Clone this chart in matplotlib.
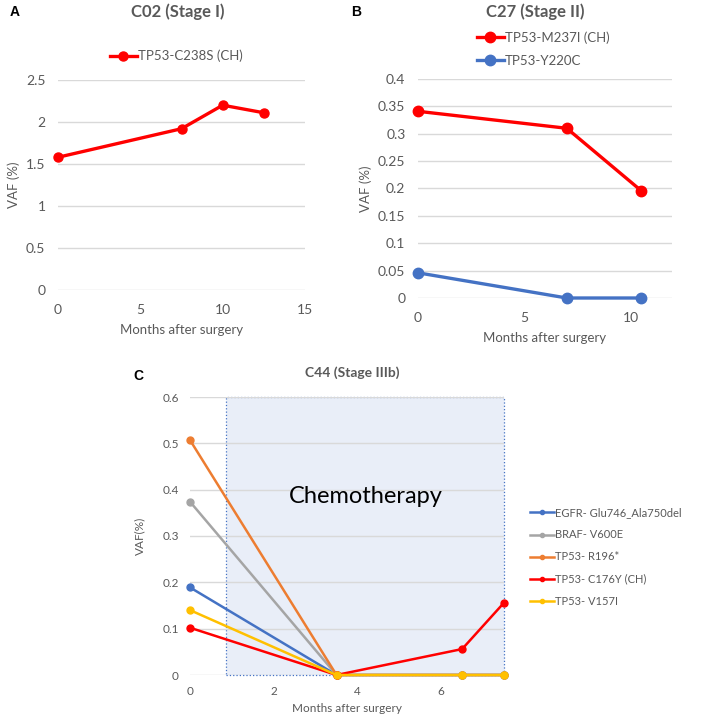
import matplotlib
matplotlib.use("Agg")
import matplotlib.pyplot as plt
from matplotlib.patches import Rectangle

plt.rcParams['font.family'] = ['Lato', 'DejaVu Sans']

# ---- Data ----
a_months = [0, 7.5, 10, 12.5]
a_tp53_c238s = [1.58, 1.92, 2.20, 2.11]

b_months = [0, 7, 10.5]
b_tp53_m237i = [0.341, 0.310, 0.196]
b_tp53_y220c = [0.046, 0.0, 0.0]

c_months = [0, 3.5, 6.5, 7.5]
c_egfr = [0.189, 0.0, 0.0, 0.0]
c_braf = [0.374, 0.0, 0.0, 0.0]
c_tp53_r196 = [0.507, 0.0, 0.0, 0.0]
c_tp53_c176y = [0.102, 0.0, 0.056, 0.156]
c_tp53_v157i = [0.140, 0.0, 0.0, 0.0]
chemo_start, chemo_end = 0.86, 7.5

TXT = '#595959'
GRID = '#d9d9d9'

fig = plt.figure(figsize=(7.09, 7.18), dpi=100)

def style(ax, fs, xpad, ypad):
    for s in ax.spines.values():
        s.set_visible(False)
    ax.grid(axis='y', color=GRID, linewidth=1)
    ax.set_axisbelow(True)
    ax.tick_params(length=0, labelsize=fs, colors=TXT)
    ax.tick_params(axis='x', pad=xpad)
    ax.tick_params(axis='y', pad=ypad)

def fmt(v):
    return '%g' % v

# ---- Panel A ----
axA = fig.add_axes([58/709, 1-290/718, 247/709, 210/718])
axA.plot(a_months, a_tp53_c238s, color='#ff0000', lw=2.4, marker='o', ms=6.5,
         label='TP53-C238S (CH)', clip_on=False)
axA.set_xlim(0, 15)
axA.set_ylim(0, 2.5)
axA.set_xticks([0, 5, 10, 15])
ya = [0, 0.5, 1, 1.5, 2, 2.5]
axA.set_yticks(ya)
axA.set_yticklabels([fmt(v) for v in ya])
style(axA, 10, 10, 9)
axA.set_xlabel('Months after surgery', color=TXT, fontsize=9.5, labelpad=6)
axA.set_ylabel('VAF (%)', color=TXT, fontsize=9.5, labelpad=4)
axA.legend(loc='center left', bbox_to_anchor=(105/709, 1-56/718),
           bbox_transform=fig.transFigure, frameon=False, fontsize=9.5,
           handlelength=2.0, handletextpad=0.1, labelcolor=TXT, borderaxespad=0)
fig.text(178/709, 1-12/718, 'C02 (Stage I)', ha='center', va='center',
         fontsize=12, fontweight='bold', color=TXT)
fig.text(10/709, 1-12/718, 'A', ha='left', va='center', fontsize=10,
         fontweight='bold', color='black', family=['Liberation Sans'])

# ---- Panel B ----
axB = fig.add_axes([418/709, 1-298/718, 254/709, 219/718])
axB.plot(b_months, b_tp53_m237i, color='#ff0000', lw=2.4, marker='o', ms=7.5,
         label='TP53-M237I (CH)', clip_on=False)
axB.plot(b_months, b_tp53_y220c, color='#4472c4', lw=2.4, marker='o', ms=7.5,
         label='TP53-Y220C', clip_on=False)
axB.set_xlim(0, 11.95)
axB.set_ylim(0, 0.4)
axB.set_xticks([0, 5, 10])
yb = [0, 0.05, 0.1, 0.15, 0.2, 0.25, 0.3, 0.35, 0.4]
axB.set_yticks(yb)
axB.set_yticklabels([fmt(v) for v in yb])
style(axB, 10, 10, 9)
axB.set_xlabel('Months after surgery', color=TXT, fontsize=9.5, labelpad=6)
axB.set_ylabel('VAF (%)', color=TXT, fontsize=9.5, labelpad=4)
axB.legend(loc='center left', bbox_to_anchor=(472/709, 1-49/718),
           bbox_transform=fig.transFigure, frameon=False, fontsize=9.5,
           handlelength=2.0, handletextpad=0.1, labelcolor=TXT, borderaxespad=0,
           labelspacing=0.85)
fig.text(535/709, 1-12/718, 'C27 (Stage II)', ha='center', va='center',
         fontsize=12, fontweight='bold', color=TXT)
fig.text(351/709, 1-12/718, 'B', ha='left', va='center', fontsize=10,
         fontweight='bold', color='black', family=['Liberation Sans'])

# ---- Panel C ----
axC = fig.add_axes([190/709, 1-675/718, 314/709, 278/718])
axC.add_patch(Rectangle((chemo_start, 0), chemo_end - chemo_start, 0.6,
                        facecolor='#e9eef8', edgecolor='#4472c4', lw=0.9,
                        linestyle=':', zorder=0.5, clip_on=False))
series = [
    (c_egfr, '#4472c4', 'EGFR- Glu746_Ala750del'),
    (c_braf, '#a5a5a5', 'BRAF- V600E'),
    (c_tp53_r196, '#ed7d31', 'TP53- R196*'),
    (c_tp53_c176y, '#ff0000', 'TP53- C176Y (CH)'),
    (c_tp53_v157i, '#ffc000', 'TP53- V157I'),
]
for vals, col, lab in series:
    axC.plot(c_months, vals, color=col, lw=1.8, marker='o', ms=5, label=lab,
             zorder=3, clip_on=False)
axC.set_xlim(0, 7.5)
axC.set_ylim(0, 0.6)
axC.set_xticks([0, 2, 4, 6])
yc = [0, 0.1, 0.2, 0.3, 0.4, 0.5, 0.6]
axC.set_yticks(yc)
axC.set_yticklabels([fmt(v) for v in yc])
style(axC, 8.5, 8, 8)
axC.set_xlabel('Months after surgery', color=TXT, fontsize=8.5, labelpad=4)
axC.set_ylabel('VAF(%)', color=TXT, fontsize=8.5, labelpad=12)
axC.text(4.2, 0.385, 'Chemotherapy', ha='center', va='center', fontsize=17,
         color='black', zorder=4)
axC.legend(loc='center left', bbox_to_anchor=(526/709, 1-557/718),
           bbox_transform=fig.transFigure, frameon=False, fontsize=8,
           handlelength=2.1, handletextpad=0.1, labelcolor=TXT, borderaxespad=0,
           labelspacing=1.0, markerscale=0.6)
fig.text(352/709, 1-373/718, 'C44 (Stage IIIb)', ha='center', va='center',
         fontsize=10, fontweight='bold', color=TXT)
fig.text(133/709, 1-376/718, 'C', ha='left', va='center', fontsize=10,
         fontweight='bold', color='black', family=['Liberation Sans'])

fig.savefig('out.png', dpi=100, facecolor='white')
